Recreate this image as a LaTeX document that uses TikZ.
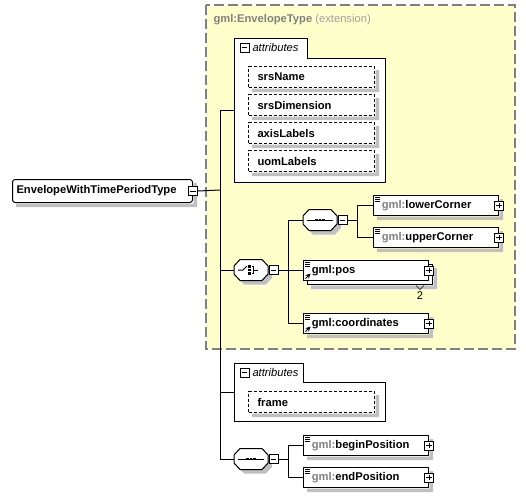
\documentclass[tikz,border=0pt]{standalone}
\usepackage{fontspec}
\setmainfont{Liberation Sans}

\definecolor{bgyellow}{RGB}{255,255,204}
\definecolor{extline}{RGB}{128,128,128}
\definecolor{shadowgray}{RGB}{192,192,192}
\definecolor{gmlgray}{RGB}{128,128,128}
\definecolor{extgray}{RGB}{160,160,160}

\newcommand{\elemfont}{\fontsize{8.4}{10}\selectfont\bfseries}
\newcommand{\gmlpre}{\textcolor{gmlgray}{gml:}}
\newcommand{\dropshade}[1]{\fill[shadowgray] ([shift={(0.5,4)}]#1.north east) rectangle ([shift={(4,4)}]#1.south east)
  ([shift={(4,0.5)}]#1.south west) rectangle ([shift={(4,4)}]#1.south east);}
\newcommand{\linesmark}[1]{\foreach \k in {2,4,6} \draw[line width=0.5pt] ([shift={(2,\k)}]#1.north west) -- ++(5,0);}
\newcommand{\refmark}[1]{\draw[-stealth,line width=0.7pt] ([shift={(2.5,-2.5)}]#1.south west) -- ++(5,-5);}
\newcommand{\compshape}[1]{%
  \fill[shadowgray] ([shift={(4,4)}]#1.center) ++(-17,-4) -- ++(6,-6.5) -- ++(22,0) -- ++(6,6.5) -- ++(0,8) -- ++(-6,6.5) -- ++(-22,0) -- ++(-6,-6.5) -- cycle;
  \draw[fill=white] (#1.center) ++(-17,-4) -- ++(6,-6.5) -- ++(22,0) -- ++(6,6.5) -- ++(0,8) -- ++(-6,6.5) -- ++(-22,0) -- ++(-6,-6.5) -- cycle;}
\newcommand{\seqmark}[1]{\draw ([xshift=-9.75pt]#1.center) -- ([xshift=9.75pt]#1.center);
  \foreach \k in {-3.5,0,3.5} \fill ([shift={(\k-1.3,-1.3)}]#1.center) rectangle ([shift={(\k+1.3,1.3)}]#1.center);}
\newcommand{\choicemark}[1]{\draw ([shift={(-13,0)}]#1.center) -- ++(5,0) -- ++(4,-4);
  \foreach \k in {-3.5,0,3.5} \fill ([shift={(-2.8,\k-1.3)}]#1.center) rectangle ([shift={(-0.2,\k+1.3)}]#1.center);
  \draw ([shift={(1,-3.5)}]#1.center) -- ++(1.5,0) -- ++(0,7) -- ++(-1.5,0);
  \draw ([shift={(2.5,0)}]#1.center) -- ++(4,0);}

\begin{document}
\begin{tikzpicture}[x=0.75pt,y=-0.75pt,line width=0.75pt,
  elem/.style={draw,fill=white,anchor=north west,minimum height=15pt,inner ysep=0pt,inner xsep=6.2pt,text width=81.35pt,align=left,font=\elemfont},
  attr/.style={draw,dash pattern=on 2.25pt off 1.5pt,fill=white,anchor=north west,minimum height=15.75pt,inner ysep=0pt,inner xsep=6.75pt,text width=81pt,align=left,font=\elemfont},
  tinybox/.style={draw,fill=white,minimum size=6.75pt,inner sep=0pt},
  minus/.style={tinybox,path picture={\draw[line width=0.6pt] ([xshift=1.3pt]path picture bounding box.west) -- ([xshift=-1.3pt]path picture bounding box.east);}},
  plus/.style={tinybox,path picture={\draw[line width=0.6pt] ([xshift=1.3pt]path picture bounding box.west) -- ([xshift=-1.3pt]path picture bounding box.east)
    ([yshift=-1.3pt]path picture bounding box.north) -- ([yshift=1.3pt]path picture bounding box.south);}},
  comp/.style={minimum width=25.5pt,minimum height=15.75pt,inner sep=0pt},
  tabtext/.style={anchor=west,inner sep=0pt,font=\fontsize{8.4}{10}\selectfont\itshape}]
\useasboundingbox (0,0) rectangle (526,497);

% extension area
\fill[bgyellow] (206,5) rectangle (515,349);
\draw[extline,line width=1.1pt,dash pattern=on 7.5pt off 3pt] (206,5) rectangle (515,349);
\node[anchor=base west,inner sep=0pt,font=\fontsize{8.4}{10}\selectfont] (ext) at (213,22)
  {\textcolor{gmlgray}{\bfseries gml:EnvelopeType} \textcolor{extgray}{(extension)}};

% junctions
\coordinate (trunk) at (220,190);
\coordinate (attAin) at (234,110);
\coordinate (attBin) at (234,392);
\coordinate (forkA) at (288,270);
\coordinate (forkB) at (357,220);
\coordinate (forkC) at (288,459);

% attribute groups
\draw[fill=white] (234,182) -- (234,38) -- (307,38) -- (307,58) -- (385,58) -- (385,182) -- cycle;
\draw[fill=white] (234,421) -- (234,363) -- (303,363) -- (303,382) -- (385,382) -- (385,421) -- cycle;

% connectors
\draw (attAin) -- (attAin -| trunk) -- (trunk |- forkC);
\draw (trunk |- forkA) -- (251,270);
\draw (trunk |- attBin) -- (attBin);
\draw (trunk |- forkC) -- (251,459);
\draw (forkA |- forkB) -- (forkA |- 0,323);
\draw (forkA |- forkB) -- (320,220);
\draw (forkA) -- (303,270);
\draw (forkA |- 0,323) -- (303,323);
\draw (forkB |- 0,205) -- (forkB |- 0,237);
\draw (forkB) -- (320,220);
\draw (forkB |- 0,205) -- (373,205);
\draw (forkB |- 0,237) -- (373,237);
\draw (forkC |- 0,445) -- (forkC |- 0,477);
\draw (forkC |- 0,445) -- (303,445);
\draw (forkC |- 0,477) -- (303,477);

% root
\node[draw,fill=white,rounded corners=2pt,anchor=north west,minimum height=17.25pt,inner ysep=0pt,inner xsep=3pt,text width=129pt,align=left,font=\elemfont] (root) at (12,179) {EnvelopeWithTimePeriodType};
\dropshade{root}
\node[minus] (rootm) at (root.east) {};
\draw (rootm.east) -- (trunk);

% attributes
\node[minus] (attAm) at (244.5,47.5) {};
\node[tabtext] (attA) at (252,47.5) {attributes};
\node[attr] (srsName) at (248,66) {srsName};
\node[attr] (srsDim) at (248,94) {srsDimension};
\node[attr] (axisLab) at (248,122) {axisLabels};
\node[attr] (uomLab) at (248,150) {uomLabels};

% choice
\node[comp] (choice) at (251,270) {};
\compshape{choice}
\choicemark{choice}
\node[minus,anchor=west] (choicem) at (choice.east) {};
\node[comp] (seqA) at (320,220) {};
\compshape{seqA}
\seqmark{seqA}
\node[minus,anchor=west] (seqAm) at (seqA.east) {};

\node[elem] (lower) at (373,195) {\gmlpre lowerCorner};
\dropshade{lower}
\node[plus] (lowerp) at (lower.east) {};
\linesmark{lower}
\node[elem] (upper) at (373,227) {\gmlpre upperCorner};
\dropshade{upper}
\node[plus] (upperp) at (upper.east) {};
\linesmark{upper}

\node[elem] (posback) at (307,264) {\phantom{gml:pos}};
\dropshade{posback}
\node[elem] (pos) at (303,260) {gml:pos};
\node[plus] (posp) at (pos.east) {};
\linesmark{pos}
\refmark{pos}
\draw[black!70] ([shift={(-17,0.5)}]posback.south east) -- ++(4,4) -- ++(4,-4);
\node[inner sep=0pt,font=\fontsize{8.4}{10}\selectfont] (posmax) at (420,296) {2};

\node[elem] (coords) at (303,313) {gml:coordinates};
\dropshade{coords}
\node[plus] (coordsp) at (coords.east) {};
\linesmark{coords}
\refmark{coords}

% frame attribute
\node[minus] (attBm) at (244.5,372.5) {};
\node[tabtext] (attB) at (252,372.5) {attributes};
\node[attr] (frame) at (248,391) {frame};

% time period
\node[comp] (seqB) at (251,459) {};
\compshape{seqB}
\seqmark{seqB}
\node[minus,anchor=west] (seqBm) at (seqB.east) {};
\draw (choicem.east) -- (forkA);
\draw (seqAm.east) -- (forkB);
\draw (seqBm.east) -- (forkC);
\node[elem] (begin) at (303,435) {\gmlpre beginPosition};
\dropshade{begin}
\node[plus] (beginp) at (begin.east) {};
\linesmark{begin}
\node[elem] (endpos) at (303,467) {\gmlpre endPosition};
\dropshade{endpos}
\node[plus] (endposp) at (endpos.east) {};
\linesmark{endpos}

\foreach \n in {srsName,srsDim,axisLab,uomLab,frame} {\dropshade{\n}}
\end{tikzpicture}
\end{document}
